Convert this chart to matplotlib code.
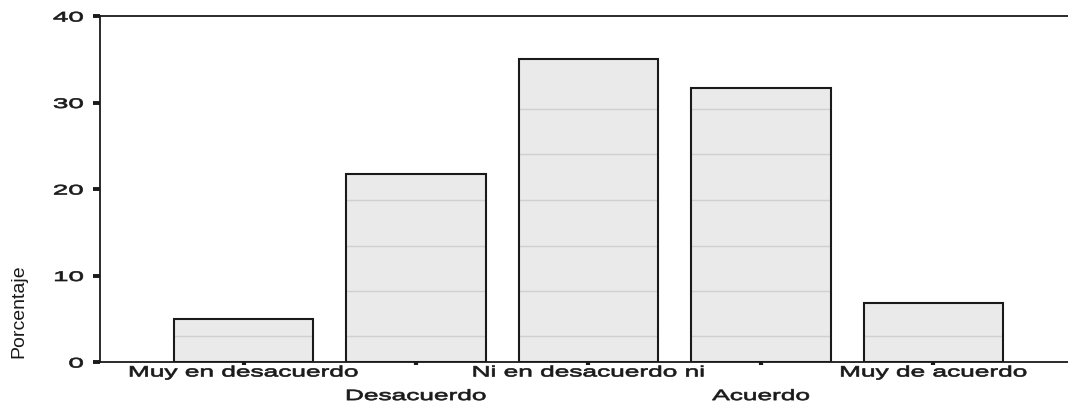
import matplotlib
matplotlib.use("Agg")
import matplotlib.pyplot as plt
from matplotlib.patheffects import AbstractPathEffect
from matplotlib.transforms import Affine2D
import numpy as np

# ---- data ----
categories = ["Muy en desacuerdo", "Desacuerdo", "Ni en desacuerdo ni", "Acuerdo", "Muy de acuerdo"]
percent = [5.0, 21.7, 35.0, 31.7, 6.8]
inner_lines = [3.0, 8.2, 13.4, 18.7, 24.0, 29.3]
y_ticks = [0, 10, 20, 30, 40]
y_label = "Porcentaje"


class Stretch(AbstractPathEffect):
    """Stretch rendered text horizontally around an anchor, slightly emboldened."""
    def __init__(self, sx=1.0, anchor="center", lw=0.0):
        super().__init__()
        self.sx = sx
        self.anchor = anchor
        self.lw = lw

    def draw_path(self, renderer, gc, tpath, affine, rgbFace=None):
        ext = tpath.get_extents(affine)
        if self.anchor == "center":
            a = (ext.x0 + ext.x1) / 2
        elif self.anchor == "right":
            a = ext.x1
        else:
            a = ext.x0
        t = affine + Affine2D().translate(-a, 0).scale(self.sx, 1).translate(a, 0)
        gc0 = renderer.new_gc()
        gc0.copy_properties(gc)
        if self.lw > 0 and rgbFace is not None:
            gc0.set_linewidth(self.lw)
            gc0.set_foreground(rgbFace)
        renderer.draw_path(gc0, tpath, t, rgbFace)
        gc0.restore()


plt.rcParams["font.family"] = ["Liberation Sans", "DejaVu Sans"]

W, H = 1068, 403
fig = plt.figure(figsize=(W / 100, H / 100), dpi=100)
left = 100 / W
bottom = (H - 362) / H
top = (H - 16) / H
ax = fig.add_axes([left, bottom, 1.0 - left, top - bottom])

x = np.arange(len(categories))
bw = 0.81
dark = "#1a1a1a"

fills = ax.bar(x, percent, width=bw, color="#eaeaea", edgecolor="none", zorder=1)
for patch in fills:
    for g in inner_lines:
        ln = ax.axhline(g, color="#d0d0d0", lw=1.0, zorder=1.5)
        ln.set_clip_path(patch)
ax.bar(x, percent, width=bw, fill=False, edgecolor=dark, linewidth=1.5, zorder=2)

ax.set_xlim(-0.832, 4.78)
ax.set_ylim(0, 40)

for s in ["left", "bottom", "top"]:
    ax.spines[s].set_linewidth(1.3)
    ax.spines[s].set_color(dark)
ax.spines["right"].set_visible(False)

ax.set_yticks(y_ticks)
ax.set_yticklabels([str(v) for v in y_ticks])
ax.tick_params(axis="y", direction="out", length=5, width=2.8, color=dark,
               labelsize=10, labelcolor=dark, pad=7)

even = x[0::2]
odd = x[1::2]
ax.set_xticks(even)
ax.set_xticklabels([categories[i] for i in even])
ax.set_xticks(odd, minor=True)
ax.set_xticklabels([categories[i] for i in odd], minor=True)
ax.tick_params(axis="x", which="major", direction="out", length=2, width=3,
               color=dark, labelsize=10.8, labelcolor=dark, pad=0.5)
ax.tick_params(axis="x", which="minor", direction="out", length=2, width=3,
               color=dark, labelsize=10.8, labelcolor=dark, pad=17.5)

for lbl in ax.get_xticklabels() + ax.get_xticklabels(minor=True):
    lbl.set_path_effects([Stretch(1.75, "center", lw=0.5)])
for lbl in ax.get_yticklabels():
    lbl.set_path_effects([Stretch(2.0, "right", lw=0.5)])

fig.text(19 / W, 1 - 311 / H, y_label, rotation=90, ha="center", va="center",
         fontsize=14, color=dark)

fig.savefig("out.png", dpi=100)
